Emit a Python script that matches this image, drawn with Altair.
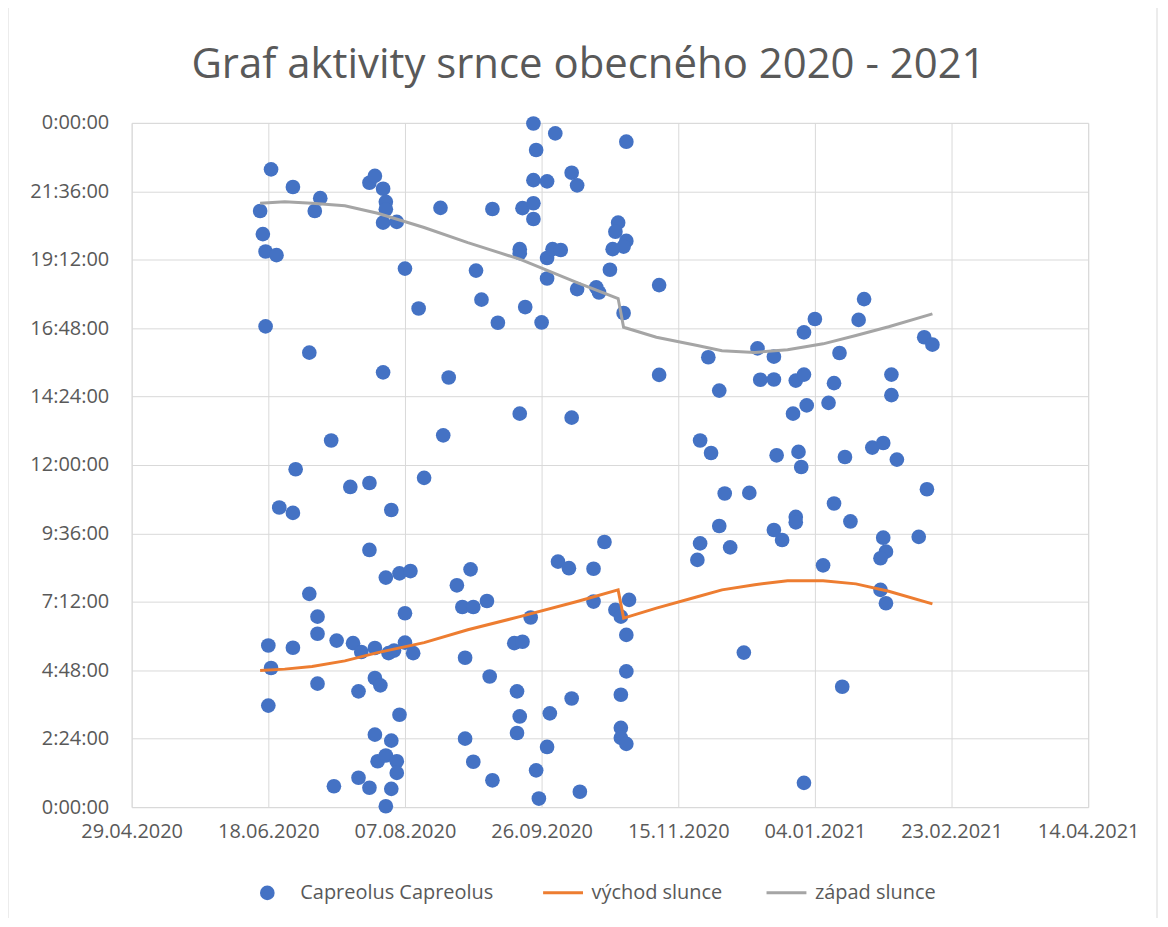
import altair as alt
import pandas as pd

# Observation dates as Excel serial numbers (43950 = 29.04.2020), time of day in hours
obs_date = [
    44001, 44009, 44019, 44017, 43997, 44037, 44039, 44042, 44043, 44043,
    44042, 44047, 43998, 43999, 44003, 44050, 44055, 43999, 44015, 44042,
    44023, 44010, 44030, 44037, 44004, 44009, 44045, 44057, 44037, 44043,
    44048, 44052, 44015, 44018, 44050, 44018, 44000, 44009, 44025, 44031,
    44034, 44039, 44044, 44046, 44050, 44053, 44001, 44018, 44039, 44041,
    44033, 44000, 44048, 44039, 44045, 44040, 44043, 44047, 44047, 44024,
    44033, 44037, 44045, 44043,
    44097, 44105, 44098, 44111, 44113, 44097, 44102, 44063, 44082, 44093,
    44097, 44097, 44092, 44092, 44102, 44104, 44107, 44102, 44113, 44076,
    44078, 44094, 44084, 44100, 44066, 44092, 44111, 44064, 44106, 44110,
    44074, 44069, 44071, 44075, 44080, 44096, 44090, 44093, 44072, 44081,
    44091, 44092, 44103, 44111, 44091, 44072, 44102, 44075, 44082, 44098,
    44099, 44114,
    44131, 44128, 44127, 44131, 44130, 44126, 44125, 44120, 44121, 44143,
    44130, 44143, 44123, 44119, 44119, 44132, 44127, 44129, 44131, 44131,
    44129, 44129, 44129, 44131,
    44218, 44200, 44216, 44196, 44240, 44243, 44179, 44161, 44185, 44209,
    44180, 44185, 44193, 44196, 44207, 44228, 44165, 44228, 44197, 44205,
    44192, 44158, 44162, 44186, 44194, 44195, 44211, 44221, 44225, 44230,
    44167, 44176, 44241, 44207, 44193, 44193, 44165, 44185, 44188, 44213,
    44158, 44169, 44225, 44226, 44224, 44238, 44157, 44203, 44224, 44226,
    44174, 44210, 44196,
]
obs_hour = [
    22.37, 21.75, 21.36, 20.91, 20.91, 21.90, 22.14, 21.69, 21.23, 20.97,
    20.50, 20.53, 20.10, 19.49, 19.36, 18.89, 17.49, 16.86, 15.94, 15.25,
    12.86, 11.85, 11.23, 11.37, 10.51, 10.32, 10.42, 11.55, 9.02, 8.05,
    8.20, 8.28, 7.48, 6.68, 6.80, 6.08, 5.67, 5.59, 5.84, 5.75,
    5.44, 5.58, 5.40, 5.49, 5.77, 5.40, 4.88, 4.33, 4.53, 4.27,
    4.06, 3.56, 3.24, 2.54, 2.33, 1.61, 1.81, 1.61, 1.20, 0.73,
    1.03, 0.68, 0.64, 0.03,
    23.98, 23.63, 23.05, 22.25, 21.81, 21.99, 21.95, 21.02, 20.98, 21.01,
    21.18, 20.63, 19.57, 19.43, 19.26, 19.57, 19.54, 18.54, 18.17, 18.82,
    17.80, 17.54, 16.99, 17.00, 15.07, 13.80, 13.66, 13.04, 8.61, 8.38,
    8.34, 7.78, 7.02, 7.02, 7.23, 6.65, 5.75, 5.80, 5.24, 4.58,
    4.06, 3.18, 3.29, 3.81, 2.60, 2.40, 2.11, 1.59, 0.94, 1.29,
    0.30, 0.54,
    23.34, 20.50, 20.18, 19.86, 19.66, 19.57, 18.85, 18.23, 18.05, 18.31,
    17.33, 15.16, 9.30, 8.36, 7.21, 7.27, 6.92, 6.68, 6.04, 4.76,
    3.94, 2.78, 2.43, 2.22,
    17.82, 17.12, 17.09, 16.65, 16.48, 16.22, 16.09, 15.78, 15.80, 15.93,
    14.99, 15.00, 14.96, 15.17, 14.87, 15.17, 14.61, 14.45, 14.09, 14.18,
    13.80, 12.86, 12.42, 12.34, 12.46, 11.93, 12.28, 12.61, 12.77, 12.19,
    11.00, 11.02, 11.15, 10.65, 10.18, 9.99, 9.86, 9.72, 9.37, 10.02,
    9.25, 9.11, 9.45, 8.96, 8.73, 9.48, 8.67, 8.48, 7.62, 7.15,
    5.42, 4.22, 0.85,
]

line_date = [43997, 44006, 44016, 44028, 44040, 44057, 44073, 44092, 44113, 44128,
             44130, 44142, 44157, 44166, 44178, 44190, 44203, 44215, 44227, 44243]
sunrise_hour = [4.79, 4.84, 4.93, 5.13, 5.42, 5.77, 6.22, 6.68, 7.21, 7.62,
                6.63, 6.98, 7.38, 7.62, 7.80, 7.94, 7.94, 7.83, 7.57, 7.13]
sunset_hour = [21.18, 21.23, 21.18, 21.09, 20.83, 20.33, 19.80, 19.22, 18.40, 17.84,
               16.83, 16.48, 16.19, 16.01, 15.95, 16.04, 16.25, 16.54, 16.85, 17.30]

TITLE = "Graf aktivity srnce obecného 2020 - 2021"
SERIES = ["Capreolus Capreolus", "východ slunce", "západ slunce"]
COLORS = ["#4472C4", "#ED7D31", "#A5A5A5"]

x_ticks = list(range(43950, 44301, 50))
y_ticks = [round(i * 2.4, 1) for i in range(11)]

FONT = "Open Sans"
TEXT = "#595959"
GRID = "#d9d9d9"

pts = pd.DataFrame({"datum": obs_date, "hodina": obs_hour, "serie": SERIES[0]})
n = len(line_date)
lines = pd.DataFrame({
    "datum": line_date + line_date,
    "hodina": sunrise_hour + sunset_hour,
    "serie": [SERIES[1]] * n + [SERIES[2]] * n,
})

x_enc = alt.X(
    "datum:Q",
    scale=alt.Scale(domain=[43950, 44300], nice=False, zero=False),
    axis=alt.Axis(
        values=x_ticks,
        labelExpr="utcFormat((datum.value - 25569) * 86400000, '%d.%m.%Y')",
        title=None, grid=True, gridColor=GRID, domain=True, domainColor=GRID,
        ticks=False, tickSize=0, labelPadding=14, labelFont=FONT, labelFontSize=20,
        labelColor=TEXT, labelFlush=False, labelOverlap=False,
    ),
)
y_enc = alt.Y(
    "hodina:Q",
    scale=alt.Scale(domain=[0, 24], nice=False, zero=False),
    axis=alt.Axis(
        values=y_ticks,
        labelExpr="utcFormat(round(datum.value * 3600000), '%-H:%M:%S')",
        title=None, grid=True, gridColor=GRID, domain=False,
        ticks=False, tickSize=0, labelPadding=23, labelFont=FONT, labelFontSize=20,
        labelColor=TEXT, labelFlush=False, labelOverlap=False,
    ),
)

points = alt.Chart(pts).mark_circle(size=216, opacity=1).encode(
    x=x_enc,
    y=y_enc,
    fill=alt.Fill(
        "serie:N",
        scale=alt.Scale(domain=[SERIES[0]], range=[COLORS[0]]),
        legend=alt.Legend(
            orient="none", legendX=126, legendY=762, direction="horizontal",
            title=None, symbolType="circle", symbolSize=216, labelOffset=23,
            labelFont=FONT, labelFontSize=20, labelColor=TEXT, labelLimit=0, padding=0,
        ),
    ),
)

sun = alt.Chart(lines).mark_line(strokeWidth=3).encode(
    x=x_enc,
    y=y_enc,
    stroke=alt.Stroke(
        "serie:N",
        scale=alt.Scale(domain=SERIES[1:], range=COLORS[1:]),
        legend=alt.Legend(
            orient="none", legendX=411, legendY=750, direction="horizontal",
            title=None, symbolType="stroke", symbolSize=1600, symbolStrokeWidth=3,
            labelOffset=7, columnPadding=37,
            labelFont=FONT, labelFontSize=20, labelColor=TEXT, labelLimit=0, padding=0,
        ),
    ),
    detail="serie:N",
)

frame = alt.Chart(alt.Data(values=[{}])).mark_rect(filled=False, stroke=GRID, strokeWidth=1).encode(
    x=alt.value(-124), x2=alt.value(1028), y=alt.value(-125), y2=alt.value(805)
)

title = alt.Chart(alt.Data(values=[{"t": TITLE}])).mark_text(
    font=FONT, fontSize=42, color=TEXT, align="center", baseline="alphabetic"
).encode(text="t:N", x=alt.value(458), y=alt.value(-45))

chart = alt.layer(frame, points, sun, title).properties(
    width=959,
    height=686,
    autosize=alt.AutoSizeParams(type="none"),
    padding={"left": 124, "top": 114, "right": 72, "bottom": 110},
).configure_view(stroke=None).configure(background="white")

chart.save("out.html", embed_options={"renderer": "svg", "actions": False})
